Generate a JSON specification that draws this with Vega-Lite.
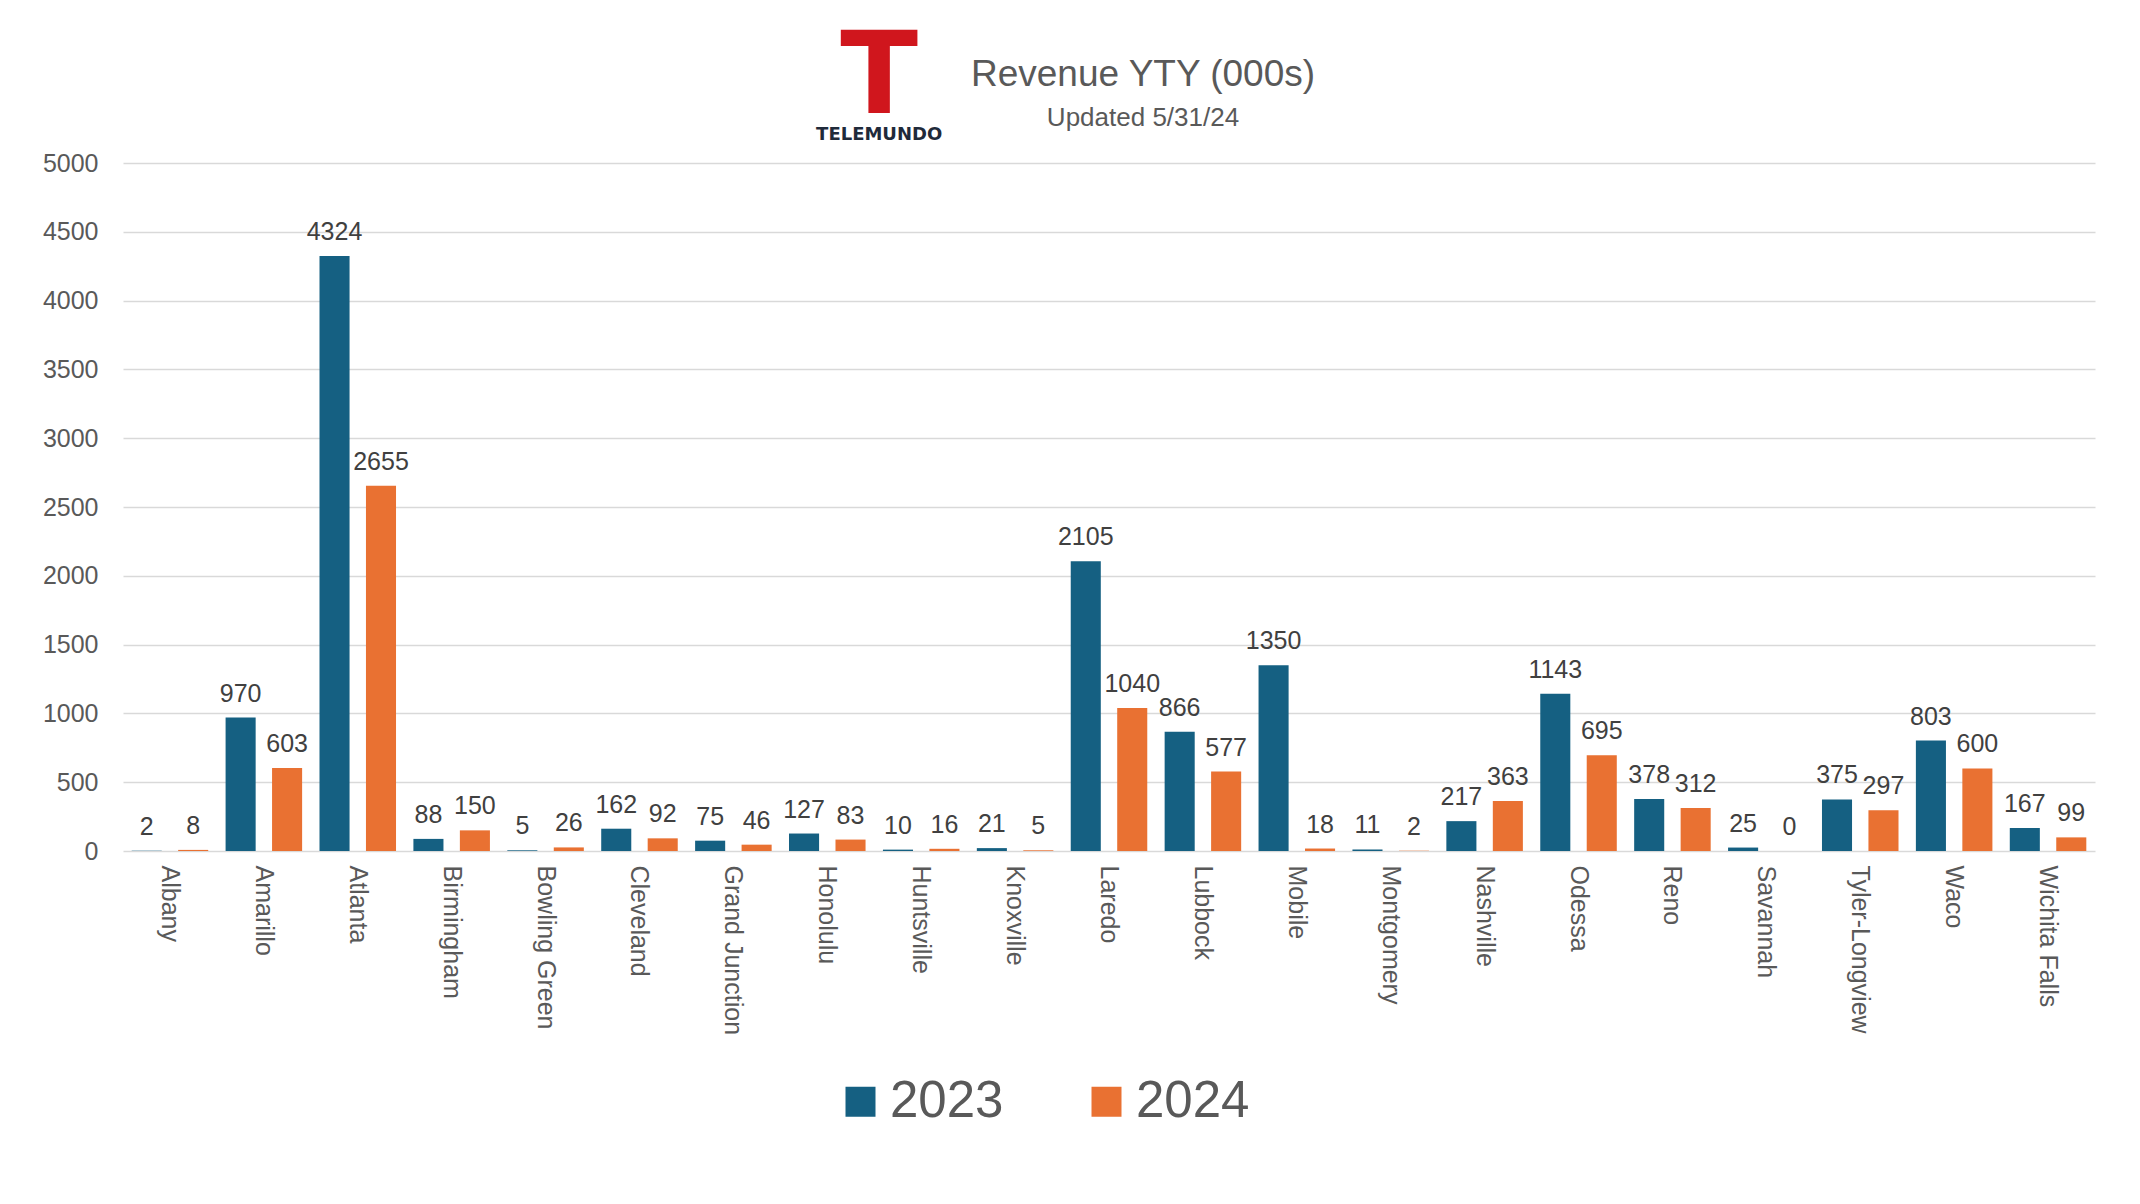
{
  "$schema": "https://vega.github.io/schema/vega-lite/v6.json",
  "autosize": {"type": "none"},
  "padding": {"left": 123, "top": 163, "right": 45, "bottom": 353},
  "width": 1972,
  "height": 688,
  "background": "white",
  "config": {
    "view": {"stroke": null},
    "font": "Liberation Sans"
  },
  "data": {
    "values": [
      {"city": "Albany", "year": "2023", "value": 2},
      {"city": "Albany", "year": "2024", "value": 8},
      {"city": "Amarillo", "year": "2023", "value": 970},
      {"city": "Amarillo", "year": "2024", "value": 603},
      {"city": "Atlanta", "year": "2023", "value": 4324},
      {"city": "Atlanta", "year": "2024", "value": 2655},
      {"city": "Birmingham", "year": "2023", "value": 88},
      {"city": "Birmingham", "year": "2024", "value": 150},
      {"city": "Bowling Green", "year": "2023", "value": 5},
      {"city": "Bowling Green", "year": "2024", "value": 26},
      {"city": "Cleveland", "year": "2023", "value": 162},
      {"city": "Cleveland", "year": "2024", "value": 92},
      {"city": "Grand Junction", "year": "2023", "value": 75},
      {"city": "Grand Junction", "year": "2024", "value": 46},
      {"city": "Honolulu", "year": "2023", "value": 127},
      {"city": "Honolulu", "year": "2024", "value": 83},
      {"city": "Huntsville", "year": "2023", "value": 10},
      {"city": "Huntsville", "year": "2024", "value": 16},
      {"city": "Knoxville", "year": "2023", "value": 21},
      {"city": "Knoxville", "year": "2024", "value": 5},
      {"city": "Laredo", "year": "2023", "value": 2105},
      {"city": "Laredo", "year": "2024", "value": 1040},
      {"city": "Lubbock", "year": "2023", "value": 866},
      {"city": "Lubbock", "year": "2024", "value": 577},
      {"city": "Mobile", "year": "2023", "value": 1350},
      {"city": "Mobile", "year": "2024", "value": 18},
      {"city": "Montgomery", "year": "2023", "value": 11},
      {"city": "Montgomery", "year": "2024", "value": 2},
      {"city": "Nashville", "year": "2023", "value": 217},
      {"city": "Nashville", "year": "2024", "value": 363},
      {"city": "Odessa", "year": "2023", "value": 1143},
      {"city": "Odessa", "year": "2024", "value": 695},
      {"city": "Reno", "year": "2023", "value": 378},
      {"city": "Reno", "year": "2024", "value": 312},
      {"city": "Savannah", "year": "2023", "value": 25},
      {"city": "Savannah", "year": "2024", "value": 0},
      {"city": "Tyler-Longview", "year": "2023", "value": 375},
      {"city": "Tyler-Longview", "year": "2024", "value": 297},
      {"city": "Waco", "year": "2023", "value": 803},
      {"city": "Waco", "year": "2024", "value": 600},
      {"city": "Wichita Falls", "year": "2023", "value": 167},
      {"city": "Wichita Falls", "year": "2024", "value": 99}
    ]
  },
  "layer": [
    {
      "mark": {"type": "bar"},
      "encoding": {
        "x": {
          "field": "city",
          "type": "nominal",
          "sort": null,
          "scale": {"paddingInner": 0, "paddingOuter": 0},
          "axis": {
            "title": null,
            "labelAngle": 90,
            "labelFontSize": 25,
            "labelColor": "#595959",
            "labelPadding": 14,
            "domain": false,
            "ticks": false
          }
        },
        "y": {
          "field": "value",
          "type": "quantitative",
          "scale": {"domain": [0, 5000]},
          "axis": {
            "title": null,
            "format": "d",
            "values": [0, 500, 1000, 1500, 2000, 2500, 3000, 3500, 4000, 4500, 5000],
            "labelFontSize": 25,
            "labelColor": "#595959",
            "labelPadding": 25,
            "domain": false,
            "ticks": false,
            "gridColor": "#d9d9d9",
            "gridWidth": 1.5
          }
        },
        "xOffset": {
          "field": "year",
          "type": "nominal",
          "scale": {"paddingInner": 0.353, "paddingOuter": 0.187}
        },
        "color": {
          "field": "year",
          "type": "nominal",
          "scale": {"domain": ["2023", "2024"], "range": ["#156082", "#E97132"]},
          "legend": {
            "title": null,
            "orient": "none",
            "legendX": 712,
            "legendY": 913,
            "direction": "horizontal",
            "symbolType": "square",
            "symbolSize": 900,
            "symbolStrokeWidth": 0,
            "symbolOpacity": 1,
            "labelFontSize": 51,
            "labelColor": "#595959",
            "labelOffset": 4,
            "columnPadding": 77
          }
        }
      }
    },
    {
      "mark": {
        "type": "text",
        "baseline": "bottom",
        "dy": -11,
        "fontSize": 25,
        "color": "#404040"
      },
      "encoding": {
        "x": {"field": "city", "type": "nominal", "sort": null},
        "y": {"field": "value", "type": "quantitative"},
        "xOffset": {"field": "year", "type": "nominal"},
        "text": {"field": "value", "type": "quantitative"}
      }
    },
    {
      "data": {"values": [{"label": "Revenue YTY (000s)"}]},
      "mark": {
        "type": "text",
        "fontSize": 37,
        "color": "#595959",
        "align": "center",
        "baseline": "middle",
        "dx": 34
      },
      "encoding": {
        "x": {"datum": "Laredo"},
        "y": {"datum": 5636},
        "text": {"field": "label"}
      }
    },
    {
      "data": {"values": [{"label": "Updated 5/31/24"}]},
      "mark": {
        "type": "text",
        "fontSize": 26,
        "color": "#595959",
        "align": "center",
        "baseline": "middle",
        "dx": 34
      },
      "encoding": {
        "x": {"datum": "Laredo"},
        "y": {"datum": 5327},
        "text": {"field": "label"}
      }
    },
    {
      "data": {"values": [{"label": "T"}]},
      "mark": {
        "type": "text",
        "font": "DejaVu Sans",
        "fontWeight": "bold",
        "fontSize": 114,
        "color": "#d0161d",
        "align": "center",
        "baseline": "alphabetic",
        "dx": -42
      },
      "encoding": {
        "x": {"datum": "Huntsville"},
        "y": {"datum": 5367},
        "text": {"field": "label"}
      }
    },
    {
      "data": {"values": [{"label": "TELEMUNDO"}]},
      "mark": {
        "type": "text",
        "font": "DejaVu Sans",
        "fontWeight": "bold",
        "fontSize": 18,
        "color": "#1f2a3a",
        "align": "center",
        "baseline": "middle",
        "dx": -42
      },
      "encoding": {
        "x": {"datum": "Huntsville"},
        "y": {"datum": 5200},
        "text": {"field": "label"}
      }
    }
  ]
}
